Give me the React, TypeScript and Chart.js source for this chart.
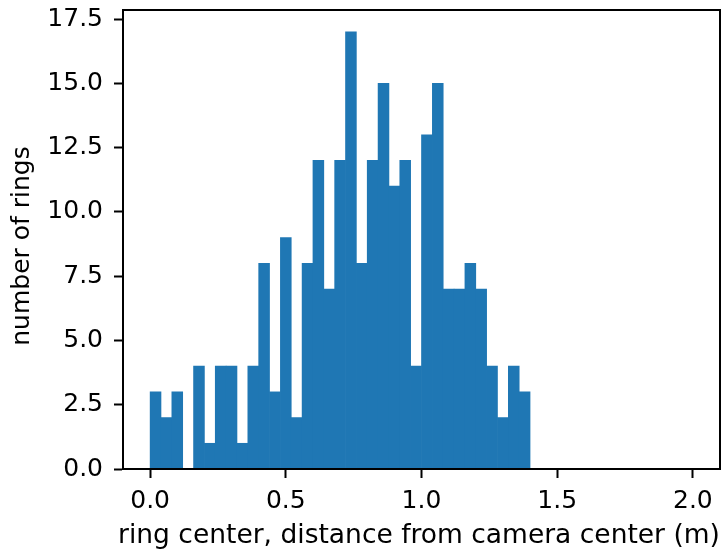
import React, { useEffect, useRef } from "react";
import { Chart, registerables } from "chart.js";

Chart.register(...registerables);

// Histogram: 50 bins of width 0.04 m from 0.0 to 2.0 m
const binStart = 0.0;
const binWidth = 0.04;
const counts = [
  3, 2, 3, 0, 4, 1, 4, 4, 1, 4,
  8, 3, 9, 2, 8, 12, 7, 12, 17, 8,
  12, 15, 11, 12, 4, 13, 15, 7, 7, 8,
  7, 4, 2, 4, 3, 0, 0, 0, 0, 0,
  0, 0, 0, 0, 0, 0, 0, 0, 0, 0,
];
const xTickValues = [0.0, 0.5, 1.0, 1.5, 2.0];
const yTickValues = [0.0, 2.5, 5.0, 7.5, 10.0, 12.5, 15.0, 17.5];
const xLabel = "ring center, distance from camera center (m)";
const yLabel = "number of rings";

const FONT = "'DejaVu Sans', sans-serif";
const TICK_SIZE = 25;

const framePlugin = {
  id: "frame",
  afterDraw(chart: any) {
    const { ctx, chartArea } = chart;
    ctx.save();
    ctx.strokeStyle = "#000";
    ctx.lineWidth = 2;
    ctx.strokeRect(chartArea.left, chartArea.top, chartArea.right - chartArea.left, chartArea.bottom - chartArea.top);
    // axis titles
    ctx.fillStyle = "#000";
    ctx.textAlign = "center";
    ctx.textBaseline = "alphabetic";
    ctx.font = `26.5px ${FONT}`;
    ctx.fillText(xLabel, 419, 543);
    ctx.translate(29, 246);
    ctx.rotate(-Math.PI / 2);
    ctx.font = `25px ${FONT}`;
    ctx.fillText(yLabel, 0, 0);
    ctx.restore();
  },
};

export default function App() {
  const ref = useRef<HTMLCanvasElement | null>(null);

  useEffect(() => {
    if (!ref.current) return;
    const data = counts.map((c, i) => ({ x: binStart + binWidth * (i + 0.5), y: c }));
    const chart = new Chart(ref.current, {
      type: "bar",
      data: {
        datasets: [
          {
            data,
            backgroundColor: "#1f77b4",
            borderWidth: 0,
            barPercentage: 1,
            categoryPercentage: 1,
          },
        ],
      },
      options: {
        animation: false,
        responsive: false,
        maintainAspectRatio: false,
        layout: { padding: { top: 10, right: 4, left: 0, bottom: 0 } },
        plugins: { legend: { display: false }, tooltip: { enabled: false } },
        scales: {
          x: {
            type: "linear",
            offset: false,
            min: -0.1,
            max: 2.1,
            afterFit: (s: any) => { s.height = 82; s.paddingLeft = 0; s.paddingRight = 0; },
            afterBuildTicks: (s: any) => { s.ticks = xTickValues.map((v) => ({ value: v })); },
            ticks: {
              includeBounds: false,
              color: "#000",
              font: { family: FONT, size: TICK_SIZE },
              padding: 8,
              maxRotation: 0,
              callback: (v: any) => Number(v).toFixed(1),
            },
            grid: { display: true, offset: false, drawOnChartArea: false, drawTicks: true, tickLength: 9, tickColor: "#000", tickWidth: 2 },
            border: { display: true, color: "#000", width: 2 },
            title: { display: false },
          },
          y: {
            type: "linear",
            min: 0,
            max: 17.85,
            afterFit: (s: any) => { s.width = 123; s.paddingTop = 0; s.paddingBottom = 0; },
            afterBuildTicks: (s: any) => { s.ticks = yTickValues.map((v) => ({ value: v })); },
            ticks: {
              includeBounds: false,
              color: "#000",
              font: { family: FONT, size: TICK_SIZE },
              padding: 11,
              callback: (v: any) => Number(v).toFixed(1),
            },
            grid: { display: true, drawOnChartArea: false, drawTicks: true, tickLength: 9, tickColor: "#000", tickWidth: 2 },
            border: { display: true, color: "#000", width: 2 },
            title: { display: false },
          },
        },
      },
      plugins: [framePlugin],
    });
    return () => chart.destroy();
  }, []);

  return (
    <div style={{ position: "absolute", left: 0, top: 0, width: 724, height: 551, background: "#fff" }}>
      <canvas ref={ref} width={724} height={551} style={{ width: 724, height: 551, display: "block" }} />
    </div>
  );
}
